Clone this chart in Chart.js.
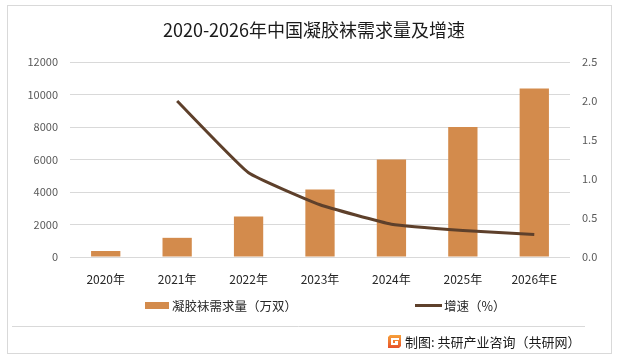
<!DOCTYPE html>
<html>
<head>
<meta charset="utf-8">
<script src="https://cdn.jsdelivr.net/npm/chart.js@4.4.1/dist/chart.umd.min.js"></script>
<style>
html,body{margin:0;padding:0;background:#fff;}
#wrap{width:617px;height:359px;position:relative;}
</style>
</head>
<body>
<div id="wrap"><canvas id="c" width="617" height="359"></canvas></div>
<script>
const categories = ["2020年","2021年","2022年","2023年","2024年","2025年","2026年E"];
const demand = [370, 1180, 2500, 4150, 6000, 8000, 10370];
const growth = [null, 2.00, 1.08, 0.67, 0.42, 0.34, 0.29];
const leftTicks = [0, 2000, 4000, 6000, 8000, 10000, 12000];
const rightTicks = [0.0, 0.5, 1.0, 1.5, 2.0, 2.5];
const titleText = "2020-2026年中国凝胶袜需求量及增速";
const barLabel = "凝胶袜需求量（万双）";
const lineLabel = "增速（%）";
const sourceText = "制图: 共研产业咨询（共研网）";

const FONT = "'Noto Sans CJK SC', 'Noto Sans', sans-serif";
const BAR_COLOR = "#D38B4C";
const LINE_COLOR = "#5E402B";

const decor = {
  id: 'decor',
  beforeDraw(chart) {
    const ctx = chart.ctx;
    ctx.save();
    ctx.fillStyle = '#fff';
    ctx.fillRect(0, 0, chart.width, chart.height);
    ctx.strokeStyle = '#D9D9D9';
    ctx.lineWidth = 1;
    ctx.strokeRect(7.5, 5.5, 604, 348);
    ctx.beginPath();
    ctx.moveTo(12, 326.5);
    ctx.lineTo(585, 326.5);
    ctx.stroke();
    ctx.restore();
  },
  afterDraw(chart) {
    const ctx = chart.ctx;
    ctx.save();
    // title
    ctx.fillStyle = '#1a1a1a';
    ctx.font = "18px " + FONT;
    ctx.textAlign = 'center';
    ctx.textBaseline = 'middle';
    ctx.fillText(titleText, 314, 30);
    // legend
    const barDs = chart.data.datasets.find(d => d.type === 'bar');
    const lineDs = chart.data.datasets.find(d => d.type === 'line');
    ctx.font = "12.5px " + FONT;
    ctx.textAlign = 'left';
    ctx.fillStyle = barDs.backgroundColor;
    ctx.fillRect(145, 302, 24, 7);
    ctx.fillStyle = '#262626';
    ctx.fillText(barDs.label, 172, 306);
    ctx.strokeStyle = lineDs.borderColor;
    ctx.lineWidth = 3;
    ctx.beginPath();
    ctx.moveTo(415, 305.5);
    ctx.lineTo(442, 305.5);
    ctx.stroke();
    ctx.fillText(lineDs.label, 444, 306);
    // source logo
    const lx = 388, ly = 335;
    const g = ctx.createLinearGradient(lx, ly, lx, ly + 13);
    g.addColorStop(0, '#F7A23B');
    g.addColorStop(1, '#E8512A');
    ctx.fillStyle = g;
    ctx.beginPath();
    ctx.moveTo(lx + 2, ly); ctx.lineTo(lx + 13, ly); ctx.lineTo(lx + 13, ly + 11);
    ctx.lineTo(lx + 11, ly + 13); ctx.lineTo(lx, ly + 13); ctx.lineTo(lx, ly + 2); ctx.closePath();
    ctx.fill();
    ctx.fillStyle = '#fff';
    ctx.fillRect(lx + 3, ly + 3, 8, 2);
    ctx.fillRect(lx + 3, ly + 3, 2, 7);
    ctx.fillRect(lx + 3, ly + 8, 7, 2);
    ctx.fillRect(lx + 7, ly + 6, 3, 2);
    ctx.fillStyle = '#1a1a1a';
    ctx.font = "13px " + FONT;
    ctx.fillText(sourceText, 405, 342);
    ctx.restore();
  }
};

new Chart(document.getElementById('c'), {
  data: {
    labels: categories,
    datasets: [
      {
        type: 'line',
        label: lineLabel,
        data: growth,
        yAxisID: 'y1',
        borderColor: LINE_COLOR,
        backgroundColor: LINE_COLOR,
        borderWidth: 3,
        pointRadius: 0,
        tension: 0.12,
        order: 0
      },
      {
        type: 'bar',
        label: barLabel,
        data: demand,
        yAxisID: 'y',
        backgroundColor: BAR_COLOR,
        barPercentage: 0.41,
        categoryPercentage: 1.0,
        order: 1
      }
    ]
  },
  options: {
    responsive: false,
    animation: false,
    devicePixelRatio: 1,
    layout: { padding: { top: 62, bottom: 62, left: 0, right: 0 } },
    plugins: {
      legend: { display: false },
      title: { display: false },
      tooltip: { enabled: false }
    },
    scales: {
      x: {
        grid: { display: false, drawTicks: false },
        border: { display: false },
        ticks: { color: '#262626', font: { family: FONT, size: 12 }, padding: 15, maxRotation: 0, autoSkip: false },
        afterFit(s) { s.height = 40; }
      },
      y: {
        position: 'left',
        min: 0, max: 12000,
        afterBuildTicks(s) { s.ticks = leftTicks.map(v => ({ value: v })); },
        grid: { color: '#D9D9D9', lineWidth: 1, drawTicks: false },
        border: { display: false },
        ticks: { color: '#595959', font: { family: FONT, size: 11 }, padding: 12, callback: v => String(v) },
        afterFit(s) { s.width = 70; }
      },
      y1: {
        position: 'right',
        min: 0, max: 2.5,
        afterBuildTicks(s) { s.ticks = rightTicks.map(v => ({ value: v })); },
        grid: { display: false, drawTicks: false },
        border: { display: false },
        ticks: { color: '#595959', font: { family: FONT, size: 11 }, padding: 12, callback: v => Number(v).toFixed(1) },
        afterFit(s) { s.width = 47; }
      }
    }
  },
  plugins: [decor]
});
</script>
</body>
</html>
